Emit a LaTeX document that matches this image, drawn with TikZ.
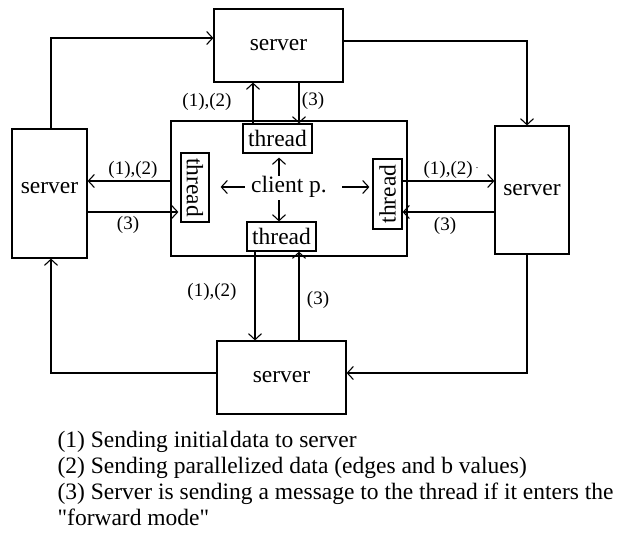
\documentclass[tikz,border=0pt]{standalone}
\usepackage{fontspec}
\setmainfont{Liberation Serif}
\usetikzlibrary{arrows.meta}
\begin{document}
\begin{tikzpicture}[x=1pt,y=-1pt,
  line width=1.2pt,
  >={Straight Barb[length=6pt,width=13pt,line width=1.1pt]},
  box/.style={draw, inner sep=0pt, font=\fontsize{23.5}{27}\selectfont},
  srvwide/.style={box, minimum width=129pt, minimum height=73pt},
  srvtall/.style={box, minimum width=75pt, minimum height=129pt},
  thr/.style={box, minimum width=69pt, minimum height=29pt},
  lbl/.style={inner sep=0pt, font=\fontsize{19}{22}\selectfont},
  legend/.style={inner sep=0pt, anchor=base west, font=\fontsize{23.5}{27}\selectfont}]

\useasboundingbox[fill=white] (0,0) rectangle (621,536);

% servers
\node[srvwide] (srvT) at (278.5,45.5) {server};
\node[srvtall, text depth=11pt] (srvL) at (49.5,193.5) {server};
\node[srvtall, minimum width=74pt, minimum height=128pt] (srvR) at (532,190) {server};
\node[srvwide] (srvB) at (281.5,377.5) {server};

% client process with its four threads
\node[draw, minimum width=236pt, minimum height=135pt] (client) at (289,188.5) {};
\node[thr] (thrT) at (277.5,138.5) {thread};
\node[thr] (thrB) at (281.5,236.5) {thread};
\node[thr, rotate=-90, minimum height=28pt] (thrL) at (195,187.5) {thread};
\node[thr, rotate=90, minimum width=70pt] (thrR) at (387.5,194) {thread};
\node[inner sep=0pt, font=\fontsize{23.5}{27}\selectfont] (cp) at (289,187) {client p.};

% client p. to its threads
\draw[->, shorten >=4pt] (cp.north -| 279,0) -- (thrT.south -| 279,0);
\draw[->, shorten <=2pt] (cp.south -| 279,0) -- (thrB.north -| 279,0);
\draw[->, shorten <=6pt, shorten >=11pt] (cp.west) -- (thrL.north |- cp.west);
\draw[->, shorten <=15pt, shorten >=3pt] (cp.east) -- (thrR.north |- cp.east);

% thread <-> server messages
\draw[->] (thrT.north -| 253,0) -- (srvT.south -| 253,0);
\draw[->] (srvT.south -| 299,0) -- (thrT.north -| 299,0);
\draw[->] (client.west |- 0,181) -- (srvL.east |- 0,181);
\draw[->, shorten >=2pt] (srvL.east |- 0,212) -- (thrL.south |- 0,212);
\draw[->] (thrR.south |- 0,181) -- (srvR.west |- 0,181);
\draw[->] (srvR.west |- 0,212) -- (thrR.south |- 0,212);
\draw[->] (thrB.south -| 255,0) -- (srvB.north -| 255,0);
\draw[->] (srvB.north -| 299,0) -- (thrB.south -| 299,0);

\node[lbl] (lT12) at (207,102) {(1),(2)};
\node[lbl] (lT3) at (313,101) {(3)};
\node[lbl] (lL12) at (133,170) {(1),(2)};
\node[lbl] (lL3) at (128,225) {(3)};
\node[lbl] (lR12) at (451,170) {(1),(2)\,\raisebox{6pt}{\fontsize{10}{10}\selectfont .}};
\node[lbl] (lR3) at (445,226) {(3)};
\node[lbl] (lB12) at (212,292) {(1),(2)};
\node[lbl] (lB3) at (318,300) {(3)};

% ring between the servers
\draw[->] (srvL.north -| 51,0) |- (srvT.west |- 0,38);
\draw[->] (srvT.east |- 0,41) -| (srvR.north -| 527,0);
\draw[->] (srvR.south -| 527,0) |- (srvB.east |- 0,373);
\draw[->] (srvB.west |- 0,373) -| (srvL.south -| 51,0);

% legend
\node[legend] (leg1) at (57,447) {(1) Sending initial\kern1.5pt data to server};
\node[legend] (leg2) at (57,473) {(2) Sending parallelized data (edges and b values)};
\node[legend] (leg3) at (57,499) {(3) Server is sending a message to the thread if it enters the};
\node[legend] (leg4) at (57,525) {\addfontfeatures{Ligatures=TeXOff}"forward mode"};
\end{tikzpicture}
\end{document}
